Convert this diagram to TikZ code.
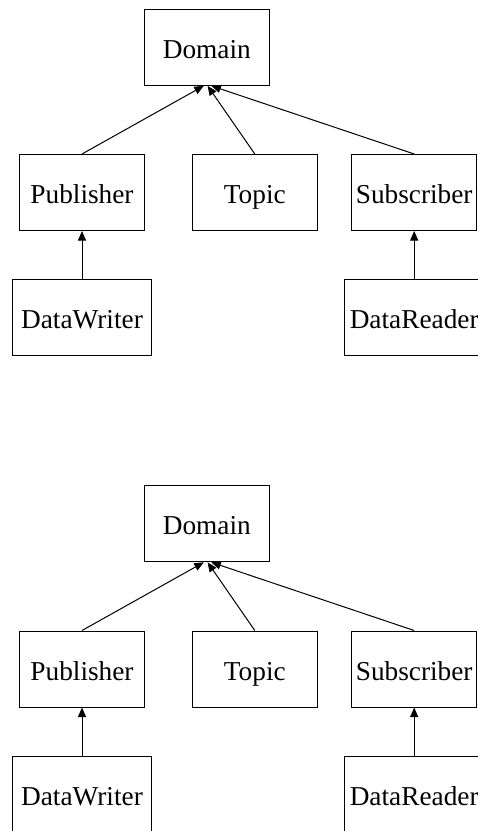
\documentclass[tikz,border=0pt]{standalone}
\usepackage{fontspec}
\setmainfont{Liberation Serif}
\usetikzlibrary{arrows.meta,calc}
\tikzset{
  box/.style={draw=black, line width=1pt, minimum width=125pt, minimum height=76pt,
    inner sep=0pt, text height=24pt, text depth=2pt,
    font=\fontsize{27.3}{30}\selectfont},
  widebox/.style={box, minimum width=139pt},
  link/.style={draw=black, line width=1pt, -{Triangle[length=9.5pt,width=8pt]}}
}
\begin{document}
\begin{tikzpicture}[x=1pt,y=-1pt]
\useasboundingbox (0,0) rectangle (478,831);
\clip (0,0) rectangle (478,831);
\foreach \o/\s in {0/a,476.5/b}{
  \node[box] (dom\s) at (206.8,47.3+\o) {Domain};
  \node[box] (pub\s) at (82,192.5+\o) {Publisher};
  \node[box] (top\s) at (254.8,192.5+\o) {Topic};
  \node[box] (sub\s) at (414.2,192.5+\o) {Subscriber};
  \node[widebox] (dw\s) at (82,317.5+\o) {DataWriter};
  \node[widebox] (dr\s) at (414.2,317.5+\o) {DataReader};
  \coordinate (tp\s) at ($(dom\s.south)+(-3,0)$);
  \coordinate (tt\s) at ($(dom\s.south)+(0.8,0)$);
  \coordinate (ts\s) at ($(dom\s.south)+(4.5,0)$);
  \draw[link] (pub\s.north) -- (tp\s);
  \draw[link] (top\s.north) -- (tt\s);
  \draw[link] (sub\s.north) -- (ts\s);
  \draw[link] (dw\s.north) -- (pub\s.south);
  \draw[link] (dr\s.north) -- (sub\s.south);
}
\end{tikzpicture}
\end{document}
